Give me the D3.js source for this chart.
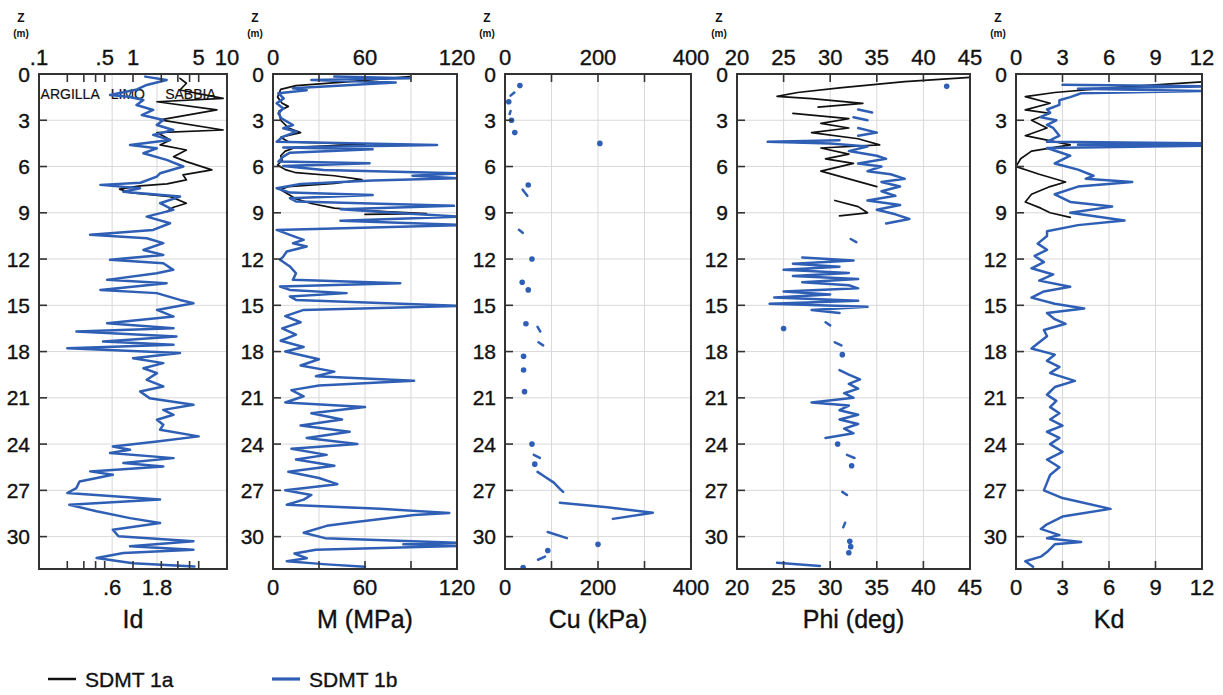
<!DOCTYPE html>
<html><head><meta charset="utf-8">
<script src="https://cdn.jsdelivr.net/npm/d3@7"></script>
<style>
body{margin:0;background:#fff;}
text{font-family:"Liberation Sans",Arial,Helvetica,sans-serif;fill:#111;stroke:#111;stroke-width:0.35px;}
</style></head>
<body><svg id="c" width="1223" height="695"></svg>
<script>
// ---------------- DATA (depth z in m, value) ----------------
const seriesNames = ["SDMT 1a", "SDMT 1b"];
const depthTicks = [0,3,6,9,12,15,18,21,24,27,30];

// Id (log scale)
const id1a = [[0.28,3.16],[0.6,3.7],[1.04,3.16],[1.58,9.1],[1.8,1.8],[2.33,7.8],[2.98,1.94],[3.63,9.1],[3.8,1.8],[4.28,2.5],[4.6,1.94],[4.93,3.7],[5.36,2.7],[5.68,3.7],[6.22,6.9],[6.54,3.4],[6.87,3.7],[7.13,2.3],[7.26,1.19],[7.47,0.72],[7.69,0.93],[7.95,2.5],[8.38,3.7],[8.64,2.7],[8.92,2.3]];
const id1b = [[0.17,1.35],[0.39,2.28],[0.71,1.4],[1.0,1.1],[1.25,0.7],[1.36,0.57],[1.47,0.9],[1.69,1.29],[2.01,1.09],[2.33,1.64],[2.66,1.24],[2.98,2.1],[3.31,1.79],[3.63,2.68],[3.95,1.64],[4.28,2.48],[4.6,0.93],[4.82,1.79],[5.14,1.29],[5.57,2.28],[6.0,3.43],[6.44,1.94],[6.65,1.79],[7.05,1.2],[7.19,0.45],[7.41,1.19],[7.63,0.79],[7.95,3.16],[8.38,1.94],[8.81,2.68],[9.25,1.4],[9.68,2.48],[10.11,1.64],[10.43,0.35],[10.65,1.4],[10.97,2.1],[11.41,1.29],[11.73,2.1],[12.05,0.57],[12.27,2.1],[12.7,2.68],[12.92,1.79],[13.35,0.53],[13.57,2.28],[14.0,0.45],[14.21,1.79],[14.65,3.16],[14.86,4.4],[15.3,1.8],[15.73,2.7],[16.16,0.53],[16.48,2.7],[16.7,0.25],[17.02,2.9],[17.35,0.48],[17.56,2.7],[17.78,0.2],[18.1,3.16],[18.43,1.0],[18.75,2.1],[19.08,1.29],[19.4,1.8],[19.83,1.4],[20.26,2.1],[20.59,1.19],[21.02,1.5],[21.45,4.4],[21.78,2.1],[22.1,2.7],[22.42,1.8],[22.75,2.1],[23.07,1.94],[23.5,5.0],[23.83,1.8],[24.15,0.61],[24.37,0.93],[24.58,0.57],[24.91,2.7],[25.23,0.79],[25.45,2.1],[25.77,0.35],[25.99,0.61],[26.42,0.27],[26.85,0.25],[27.17,0.2],[27.6,1.94],[27.93,0.21],[28.36,0.41],[28.8,0.93],[29.12,1.94],[29.55,0.61],[29.98,0.7],[30.3,4.4],[30.63,0.93],[30.85,4.4],[31.06,0.79],[31.39,0.41],[31.72,1.0],[31.93,4.5]];

// M (MPa)
const m1a = [[0.17,89],[0.5,50],[0.75,15],[1.0,5],[1.5,3],[1.9,6],[2.1,10],[2.4,4],[3.0,5],[3.5,10],[3.8,18],[4.1,5],[4.4,10],[4.55,60],[4.75,15],[5.0,8],[5.3,5],[5.6,6],[5.9,3],[6.2,8],[6.4,15],[6.6,40],[6.85,58],[7.1,40],[7.3,10],[7.5,5],[7.8,10],[8.1,15],[8.4,25],[8.7,40],[8.9,70],[9.05,100],[9.1,60]];
const m1b = [[0.17,40],[0.28,89],[0.39,25],[0.55,80],[0.71,51],[0.93,13],[1.05,22],[1.25,3.5],[1.58,7],[1.9,2.4],[2.23,6.7],[2.55,3.5],[2.88,5.5],[3.31,13],[3.52,6.7],[3.74,15.4],[4.06,6.7],[4.39,2.4],[4.6,107],[4.76,6.7],[4.88,65],[5.1,11],[5.36,6.7],[5.68,3.5],[5.79,63],[5.96,6.7],[6.22,33],[6.44,121],[6.6,91],[6.76,121],[6.91,65],[7.13,18],[7.41,2.4],[7.69,11],[7.84,65],[8.05,11],[8.27,15],[8.55,118],[8.77,44],[8.98,76],[9.25,121],[9.51,44],[9.79,125],[10.11,2.4],[10.43,11],[10.76,20],[10.97,13],[11.19,22],[11.51,9],[11.84,6.7],[12.05,4.6],[12.48,11],[12.92,15],[13.35,13],[13.57,83],[13.78,4.6],[14.0,11],[14.21,48],[14.43,11],[14.65,15],[15.04,122],[15.3,20],[15.7,8],[16.1,18],[16.5,6],[16.9,15],[17.3,5],[17.7,20],[18.0,8],[18.5,30],[18.9,18],[19.3,40],[19.6,28],[19.9,92],[20.2,30],[20.5,12],[20.9,20],[21.3,8],[21.6,60],[22.0,25],[22.4,45],[22.8,18],[23.2,50],[23.6,22],[24.0,55],[24.3,12],[24.7,35],[25.0,15],[25.4,40],[25.8,10],[26.2,30],[26.6,42],[27.0,8],[27.3,25],[27.6,20],[27.93,9],[28.2,70],[28.47,115],[28.6,92],[29.1,50],[29.3,35],[29.75,20],[30.1,34],[30.4,121],[30.5,85],[30.6,121],[30.85,28],[31.1,14],[31.4,22],[31.6,9],[31.8,35],[31.95,60]];

// Cu (kPa) - null separates segments, isolated points are dots
const cu1b = [[0.75,32],null,[1.2,20],[1.4,12],null,[1.8,8],null,[2.4,12],[2.6,10],null,[3.0,14],null,[3.8,21],null,[4.5,204],null,[7.2,50],null,[7.5,38],[7.9,48],null,[10.1,30],[10.3,38],null,[12.0,58],null,[13.5,37],null,[14.0,50],null,[16.2,45],null,[16.4,70],[16.7,76],null,[17.4,72],[17.6,82],null,[18.3,40],null,[19.2,40],null,[20.6,42],null,[24.0,58],null,[24.7,62],[24.9,75],null,[25.3,64],null,[25.8,70],[26.1,85],[26.5,105],[26.9,118],[27.1,125],null,[27.8,118],[28.1,220],[28.45,318],[28.85,232],null,[29.7,92],[30.1,133],null,[30.5,200],null,[30.9,92],null,[31.3,86],[31.5,71],null,[32.0,39]];

// Phi (deg)
const phi1a = [[0.2,45.5],[0.5,38],[0.9,31],[1.2,26.5],[1.45,24.3],[1.6,28],[1.9,33.5],[2.15,28.7],null,[2.55,26],[2.9,32],[3.2,29],[3.5,32],[3.8,28],[4.2,33],[4.6,35.3],[4.8,29],[5.2,32],[5.5,29.5],[5.8,32.5],[6.3,29],[6.8,32],[7.3,35],null,[8.2,30.5],[8.6,33],[9.0,34],[9.2,31]];
const phi1b = [[0.8,42.5],null,[2.3,33],[2.5,34.5],null,[2.8,32.5],[3.0,34],null,[3.5,33],[3.8,35],[4.0,33],null,[4.3,31],[4.4,23.3],[4.5,30],[4.7,34],[5.0,32],[5.3,35],[5.5,36],[5.8,33],[6.0,35.5],[6.3,34],[6.5,36.5],[6.8,38],[7.0,35.5],[7.3,37.5],[7.6,35.5],[7.9,37],[8.2,34],[8.5,37.5],[8.8,35],[9.1,37],[9.4,38.5],[9.7,36],null,[10.7,32.2],[10.9,32.8],null,[11.9,27],[12.1,32.5],[12.3,26],[12.5,31],[12.7,25],[12.9,32],[13.1,26],[13.3,33],[13.5,27],[13.7,32],[13.9,33],[14.1,25],[14.3,30],[14.5,24],[14.7,33],[14.9,23.5],[15.1,34],[15.3,28],[15.5,31],null,[16.1,29.5],[16.3,30],null,[16.5,25],null,[17.4,30.5],[17.6,31.2],null,[18.2,31.3],null,[19.2,31],[19.5,32],[19.8,33.2],[20.1,32],[20.4,33],[20.7,31.5],[21.0,32.5],[21.3,28],[21.5,32],[21.8,31],[22.1,33],[22.4,31],[22.7,33],[23.0,31.5],[23.3,32.5],[23.6,29.5],null,[24.0,30.8],null,[24.7,31.8],[24.9,32.6],null,[25.4,32.3],null,[27.1,31.3],[27.3,31.8],null,[29.1,31.6],[29.4,31.4],null,[30.3,32.1],null,[30.65,32.2],null,[31.05,32.0],null,[31.7,24.3],[31.9,28.9]];

// Kd
const kd1a = [[0.5,12.2],[0.9,6],[1.2,2.5],[1.47,0.6],[1.9,2.2],[2.33,0.6],[2.55,2.2],[3.0,1.0],[3.5,2.0],[4.0,0.6],[4.6,3.5],[5.0,1.0],[5.5,0.3],[6.0,0.0],[6.5,1.5],[7.0,3.2],[7.3,2.2],[7.8,1.0],[8.3,0.6],[8.7,1.6],[9.0,2.2],[9.3,3.5]];
const kd1b = [[0.7,3.0],[0.8,12.3],[0.95,4.0],[1.1,12.3],[1.25,4.2],[1.5,3.5],[1.7,2.8],[2.0,2.8],[2.3,2.0],[2.5,2.2],[2.8,1.6],[3.0,2.6],[3.3,2.0],[3.5,2.4],[4.0,2.8],[4.4,2.0],[4.5,12.3],[4.58,4],[4.65,12.3],[4.8,2.0],[5.3,3.5],[5.8,2.5],[6.2,4.0],[6.6,5.0],[6.8,4.5],[7.0,7.5],[7.3,4.0],[7.8,2.5],[8.3,3.5],[8.6,6.2],[9.0,3.5],[9.5,7.0],[9.8,4.0],[10.2,2.0],[10.5,2.0],[11.0,1.4],[11.4,2.0],[11.8,1.2],[12.2,1.8],[12.6,1.0],[13.0,2.4],[13.4,1.5],[13.8,3.5],[14.1,1.8],[14.5,1.0],[14.9,2.5],[15.2,4.4],[15.5,2.0],[15.9,2.5],[16.2,3.2],[16.6,1.8],[17.0,2.0],[17.4,1.5],[17.8,1.0],[18.2,2.5],[18.6,2.0],[19.0,2.8],[19.4,2.2],[19.9,3.8],[20.3,2.5],[20.8,2.0],[21.2,2.6],[21.6,2.2],[22.0,2.8],[22.4,2.2],[22.8,3.0],[23.2,2.0],[23.6,2.8],[24.0,2.2],[24.5,3.0],[25.0,2.0],[25.5,2.8],[26.0,2.2],[26.5,2.0],[27.0,1.8],[27.5,3.0],[28.2,6.1],[28.7,3.0],[29.2,2.0],[29.5,1.6],[29.9,2.8],[30.1,2.0],[30.35,4.2],[30.5,2.5],[31.0,2.0],[31.3,1.6],[31.6,0.6],[31.95,1.1]];

// axis tick values / labels
const idTopLabels = [[0.1,".1"],[0.5,".5"],[1,"1"],[5,"5"],[10,"10"]];
const idBotLabels = [[0.6,".6"],[1.8,"1.8"]];
const idMinorTicks = [0.2,0.3,0.4,0.5,1,2,3,4,5];
const idGrid = [0.6,1.8];
const soilLabels = [[0.104,"ARGILLA"],[0.58,"LIMO"],[2.2,"SABBIA"]];
const mLabels = [0,60,120], mTicks = [30,60,90];
const cuLabels = [0,200,400], cuTicks = [100,200,300];
const phiLabels = [20,25,30,35,40,45], phiTicks = [25,30,35,40];
const kdLabels = [0,3,6,9,12], kdTicks = [3,6,9];

// ---------------- DRAWING ----------------
const BLUE = "#2f5fb5", BLACK = "#111";
const svg = d3.select("#c");
const zMax = 32.1;
const y = d3.scaleLinear().domain([0, zMax]).range([74, 569]);

const panels = [
  {left:39, right:227, log:true, domain:[0.1,10], top:idTopLabels, bot:idBotLabels, ticks:idMinorTicks, grid:idGrid, title:"Id", a:id1a, b:id1b},
  {left:273, right:457, domain:[0,120], top:mLabels.map(v=>[v,String(v)]), bot:mLabels.map(v=>[v,String(v)]), ticks:mTicks, grid:mTicks, title:"M (MPa)", a:m1a, b:m1b},
  {left:505, right:691, domain:[0,400], top:cuLabels.map(v=>[v,String(v)]), bot:cuLabels.map(v=>[v,String(v)]), ticks:cuTicks, grid:cuTicks, title:"Cu (kPa)", a:null, b:cu1b},
  {left:737, right:970, domain:[20,45], top:phiLabels.map(v=>[v,String(v)]), bot:phiLabels.map(v=>[v,String(v)]), ticks:phiTicks, grid:phiTicks, title:"Phi (deg)", a:phi1a, b:phi1b},
  {left:1016, right:1202, domain:[0,12], top:kdLabels.map(v=>[v,String(v)]), bot:kdLabels.map(v=>[v,String(v)]), ticks:kdTicks, grid:kdTicks, title:"Kd", a:kd1a, b:kd1b}
];

const [yT, yB] = y.range();

panels.forEach((p, i) => {
  const x = (p.log ? d3.scaleLog() : d3.scaleLinear()).domain(p.domain).range([p.left, p.right]);
  const g = svg.append("g");
  const cid = "clip" + i;
  svg.append("clipPath").attr("id", cid).append("rect")
    .attr("x", p.left).attr("y", yT).attr("width", p.right - p.left).attr("height", yB - yT);

  // grid
  g.selectAll(".hg").data(depthTicks.slice(1)).join("line")
    .attr("x1", p.left).attr("x2", p.right).attr("y1", d => y(d)).attr("y2", d => y(d))
    .attr("stroke", "#d9d9d9").attr("stroke-width", 1);
  g.selectAll(".vg").data(p.grid).join("line")
    .attr("x1", d => x(d)).attr("x2", d => x(d)).attr("y1", yT).attr("y2", yB)
    .attr("stroke", "#d9d9d9").attr("stroke-width", 1);

  if (p.log) {
    g.selectAll(".soil").data(soilLabels).join("text")
      .attr("x", d => x(d[0])).attr("y", 99).attr("font-size", 14)
      .style("stroke-width", "0.2px").text(d => d[1]);
  }

  // series
  const line = d3.line().defined(d => d != null).x(d => x(d[1])).y(d => y(d[0]));
  const data = [[p.a, BLACK, 1.7], [p.b, BLUE, 2.5]];
  const cg = g.append("g").attr("clip-path", `url(#${cid})`);
  data.forEach(([arr, col, sw]) => {
    if (!arr) return;
    cg.append("path").datum(arr).attr("d", line).attr("fill", "none")
      .attr("stroke", col).attr("stroke-width", sw).attr("stroke-linejoin", "round").attr("stroke-linecap", "round");
    const iso = arr.filter((d, k) => d && !arr[k-1] && !arr[k+1]);
    cg.selectAll(null).data(iso).join("circle")
      .attr("cx", d => x(d[1])).attr("cy", d => y(d[0])).attr("r", 2.8).attr("fill", col);
  });

  // frame
  g.append("rect").attr("x", p.left).attr("y", yT).attr("width", p.right - p.left).attr("height", yB - yT)
    .attr("fill", "none").attr("stroke", "#333").attr("stroke-width", 2);

  // inward ticks
  g.selectAll(".tt").data(p.ticks).join("line")
    .attr("x1", d => x(d)).attr("x2", d => x(d)).attr("y1", yT).attr("y2", yT + 8)
    .attr("stroke", "#333").attr("stroke-width", 1.6);
  g.selectAll(".bt").data(p.ticks).join("line")
    .attr("x1", d => x(d)).attr("x2", d => x(d)).attr("y1", yB).attr("y2", yB - 8)
    .attr("stroke", "#333").attr("stroke-width", 1.6);
  g.selectAll(".lt").data(depthTicks.slice(1)).join("line")
    .attr("x1", p.left).attr("x2", p.left + 8).attr("y1", d => y(d)).attr("y2", d => y(d))
    .attr("stroke", "#333").attr("stroke-width", 1.6);

  // labels
  g.selectAll(".tl").data(p.top).join("text")
    .attr("x", d => x(d[0])).attr("y", yT - 9).attr("text-anchor", "middle")
    .attr("font-size", 22).text(d => d[1]);
  g.selectAll(".bl").data(p.bot).join("text")
    .attr("x", d => x(d[0])).attr("y", yB + 26).attr("text-anchor", "middle")
    .attr("font-size", 22).text(d => d[1]);
  g.selectAll(".yl").data(depthTicks).join("text")
    .attr("x", p.left - 9).attr("y", d => y(d)).attr("dy", "0.36em").attr("text-anchor", "end")
    .attr("font-size", 21).text(d => d);
  g.append("text").attr("x", (p.left + p.right) / 2).attr("y", yB + 59).attr("text-anchor", "middle")
    .attr("font-size", 25).text(p.title);
  g.append("text").attr("x", p.left - 18).attr("y", 22).attr("text-anchor", "middle")
    .attr("font-size", 12).attr("font-weight", "bold").style("stroke-width", "0").text("Z");
  g.append("text").attr("x", p.left - 18).attr("y", 37).attr("text-anchor", "middle")
    .attr("font-size", 10).attr("font-weight", "bold").style("stroke-width", "0").text("(m)");
});

// legend
const leg = svg.append("g");
const legItems = [[seriesNames[0], BLACK, 48, 1.9], [seriesNames[1], BLUE, 272, 2.6]];
legItems.forEach(([name, col, lx, sw]) => {
  leg.append("line").attr("x1", lx).attr("x2", lx + 28).attr("y1", 679).attr("y2", 679)
    .attr("stroke", col).attr("stroke-width", sw + 0.6);
  leg.append("text").attr("x", lx + 37).attr("y", 687).attr("font-size", 21).text(name);
});
</script></body></html>
